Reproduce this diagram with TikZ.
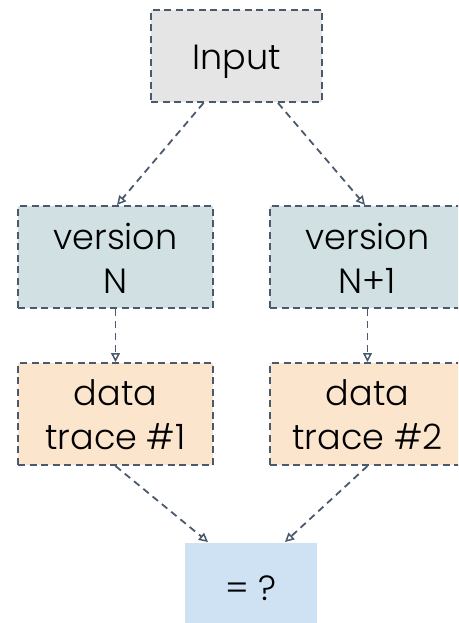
\documentclass[tikz,border=0pt]{standalone}
\usepackage{fontspec}
\setmainfont{Poppins Light}
\usetikzlibrary{arrows.meta}
\definecolor{edgec}{HTML}{4A596C}
\definecolor{inputfill}{HTML}{E5E5E5}
\definecolor{verfill}{HTML}{D0E0E3}
\definecolor{datafill}{HTML}{FCE5CD}
\definecolor{resfill}{HTML}{CFE2F3}
\newcommand{\boxtext}[2]{\raisebox{#1}[0pt][0pt]{\begin{tabular}[b]{@{}c@{}}#2\end{tabular}}}
\tikzset{
  box/.style={draw=edgec, line width=2pt, dash pattern=on 7pt off 4.5pt, minimum width=195pt, minimum height=102pt, align=center, font=\fontsize{35}{44}\selectfont, inner sep=0pt, text=black},
  conn/.style={draw=edgec, line width=1.8pt, dash pattern=on 7pt off 5pt, -{Triangle[open, length=9pt, width=9pt, line width=1.5pt, sep=0pt]}},
}
\begin{document}
\begin{tikzpicture}[x=1pt, y=-1pt]
\useasboundingbox (0,0) rectangle (458,623);
\clip (0,0) rectangle (458,623);
\node[box, fill=inputfill, minimum width=171pt, minimum height=92pt] (in) at (236.5,56) {\boxtext{-14pt}{Input}};
\node[box, fill=verfill] (vn) at (115.5,257) {\boxtext{-36pt}{version\\N}};
\node[box, fill=verfill] (vn1) at (367.5,257) {\boxtext{-36pt}{version\\N+1}};
\node[box, fill=datafill] (d1) at (115.5,414) {\boxtext{-35pt}{data\\trace \#1}};
\node[box, fill=datafill] (d2) at (367.5,414) {\boxtext{-35pt}{data\\trace \#2}};
\node[box, draw=none, fill=resfill, minimum width=132pt, minimum height=82pt] (res) at (251,584) {\boxtext{-16pt}{= ?}};
\draw[conn] ([xshift=-33pt]in.south) -- ([xshift=1.5pt]vn.north);
\draw[conn] ([xshift=41.5pt]in.south) -- ([xshift=-2.5pt]vn1.north);
\draw[conn] (vn.south) -- (d1.north);
\draw[conn] (vn1.south) -- (d2.north);
\draw[conn] (d1.south) -- ([xshift=-43pt]res.north);
\draw[conn] (d2.south) -- ([xshift=34pt]res.north);
\end{tikzpicture}
\end{document}
